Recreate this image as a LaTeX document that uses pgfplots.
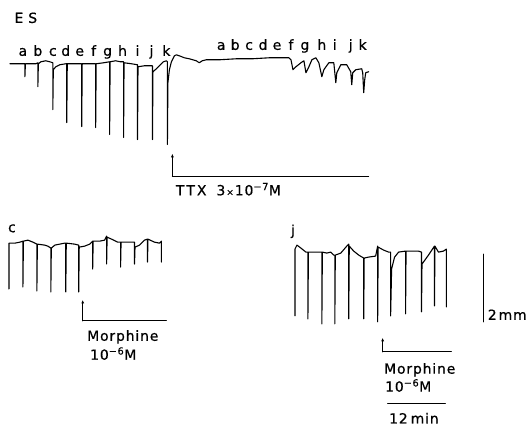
\documentclass[border=0pt]{standalone}
\usepackage{pgfplots}
\pgfplotsset{compat=1.18}
\usetikzlibrary{arrows.meta}
\usepackage{fontspec}
\setmainfont{DejaVu Sans}
\newfontfamily\labfont[LetterSpace=6,FakeBold=0.6]{DejaVu Sans}
\newcommand{\lab}{\labfont\fontsize{14}{16}\selectfont}
\begin{document}
\begin{tikzpicture}
\begin{axis}[scale only axis, width=530pt, height=426pt,
  xmin=0, xmax=530, ymin=0, ymax=426, y dir=reverse,
  hide axis, clip=false,
  every axis plot post/.append style={black, solid, line width=1.1pt, line join=round, line cap=round, mark=none}]
\path (rel axis cs:0,0) rectangle (rel axis cs:1,1);
% ---- top trace, control a-k then TTX a-k
\addplot coordinates {
(10,64) (25,64) (25,77) (25.5,64) (36,64) (38,63) (38,87) (38.5,64) (41,62) (46,61) (50,62) (53,63)
(53,110) (53.5,70) (56,67) (60,65) (66,64) (67,64) (67,123) (67.5,64) (81,64) (82,64) (82,127) (82.5,64)
(95,64) (96,64) (96,128) (96.5,64) (104,63) (110,62) (110,135) (110.5,62) (116,61) (121,62) (124,62)
(124,138) (124.5,63) (132,64) (138,65) (138,140) (138.5,67) (145,66) (152,66) (153,66) (153,140)
(153.5,72) (157,69) (162,64) (164,62) (167,61) (168,62) (168,145) (168.5,83) (170,70) (172,62)
(175,56) (177,55) (180,56) (185,58) (190,59) (197,61) (200,63) (203,61) (207,60) (220,60) (237,59)
(253,59) (270,58) (290,58) (292,60) (294,70) (297,67) (302,63) (305,61) (307,73) (310,67) (313,60)
(317,58) (320,63) (323,77) (325,70) (330,63) (335,63) (337,83) (338,73) (342,65) (348,65) (352,72)
(353,85) (354,73) (357,70) (363,69) (364,73) (365,93) (366,80) (367,73) (370,72)
};
% TTX marker
\addplot[-{Latex[length=4pt,width=3pt]}] coordinates {(173,177) (173,154)};
\addplot coordinates {(173,177) (370,177)};
% ---- lower-left trace (c)
\addplot coordinates {
(9,290) (9,244) (15,244) (20,243) (23,242) (23,288) (23.5,242) (28,241) (33,243) (37,245) (37,292)
(37.5,245) (45,246) (48,247) (51,249) (51,293) (51.5,249) (55,246) (60,245) (65,244) (66,244) (66,293)
(66.5,244) (75,245) (79,246) (79,293) (79.5,248) (85,247) (90,245) (93,242) (93,270) (93.5,242)
(100,242) (105,241) (107,237) (107,265) (107.5,238) (112,240) (118,243) (121,243) (121,268)
(121.5,243) (130,243) (135,243) (135,265) (135.5,248) (140,246) (145,241) (148,240) (148,263)
(148.5,240) (155,243) (160,244) (162,242) (162,263)
};
\addplot[-{Latex[length=3.5pt,width=3pt]}] coordinates {(83,322) (83,301)};
\addplot coordinates {(83,322) (167,322)};
% ---- lower-right trace (j)
\addplot coordinates {
(296,317) (296,250) (298,246) (302,249) (307,253) (309,253) (309,320) (309.5,253) (315,253) (323,253)
(323,325) (323.5,253) (328,254) (332,253) (335,256) (336,256) (336,325) (336.5,256) (342,254)
(348,247) (350,245) (350,320) (350.5,247) (355,252) (360,256) (365,259) (365,320) (365.5,259)
(370,258) (377,257) (379,247) (379,323) (379.5,248) (385,251) (390,253) (392,253) (392,317)
(393,270) (396,258) (400,253) (407,252) (407,315) (407.5,252) (415,252) (420,252) (423,253)
(423,313) (423.5,265) (430,256) (436,247) (436,307) (436.5,247) (440,253) (445,252) (448,250) (448,308)
};
\addplot[-{Latex[length=3.5pt,width=3pt]}] coordinates {(384,353) (384,339)};
\addplot coordinates {(384,353) (453,353)};
% scale bars
\addplot coordinates {(485,255) (485,323)};
\addplot coordinates {(389,405) (447,405)};
% ---- texts
\node[anchor=base west, font=\lab] at (axis cs:11,23) {E\hspace{5pt}S};
\foreach \x/\l in {23/a,38/b,53/c,66/d,80/e,94/f,108/g,123/h,138/i,152/j,167/k}{
  \edef\tmp{\noexpand\node[anchor=base, font=\noexpand\lab] at (axis cs:\x,56) {\l};}\tmp}
\foreach \x/\l in {222/a,236/b,250/c,264/d,278/e,292/f,306/g,323/h,336/i,352/j,364/k}{
  \edef\tmp{\noexpand\node[anchor=base, font=\noexpand\lab] at (axis cs:\x,50) {\l};}\tmp}
\node[anchor=base west, font=\lab] at (axis cs:173,196) {T\hspace{2pt}T\hspace{2pt}X\hspace{10pt}3\hspace{1pt}{\fontsize{9}{10}\selectfont ×}\hspace{1pt}10\textsuperscript{−7}M};
\node[anchor=base, font=\lab] at (axis cs:12,233) {c};
\node[anchor=base, font=\lab] at (axis cs:294,236) {j};
\node[anchor=base west, font=\lab] at (axis cs:84,342) {Morphine};
\node[anchor=base west, font=\lab] at (axis cs:87,361) {10\textsuperscript{−6}M};
\node[anchor=base west, font=\lab] at (axis cs:382,375) {Morphine};
\node[anchor=base west, font=\lab] at (axis cs:383,393) {10\textsuperscript{−6}M};
\node[anchor=base west, font=\lab] at (axis cs:387,425) {12\hspace{3pt}min};
\node[anchor=base west, font=\lab] at (axis cs:486,321) {2\hspace{2pt}mm};
\end{axis}
\end{tikzpicture}
\end{document}
